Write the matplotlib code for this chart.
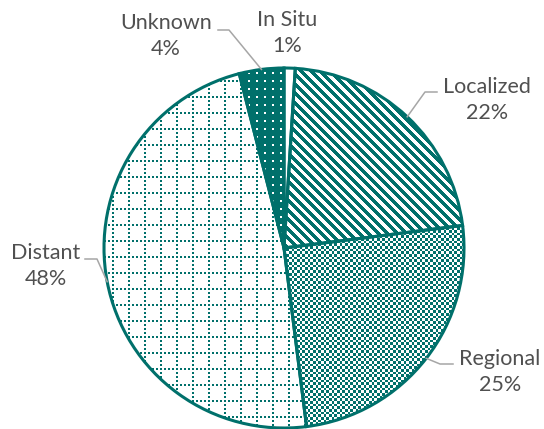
import numpy as np
import matplotlib
matplotlib.use("Agg")
import matplotlib.pyplot as plt

# stage distribution
stages = ["In Situ", "Localized", "Regional", "Distant", "Unknown"]
shares = [1, 22, 25, 48, 4]

teal = "#00706B"
grey_txt = "#505050"
leader = "#A6A6A6"

plt.rcParams['font.family'] = ['Lato', 'DejaVu Sans']

W, H = 544, 429
fig = plt.figure(figsize=(W / 100, H / 100), dpi=100)
ax = fig.add_axes([0, 0, 1, 1])

cx, cy, r = 284, 181, 180
wedges, _ = ax.pie(shares, startangle=90, counterclock=False, center=(cx, cy), radius=r,
                   wedgeprops=dict(facecolor="none", edgecolor=teal, linewidth=2.2, zorder=3))

# pixel patterns (screen rows, top = 0)
yy, xx = np.mgrid[0:H, 0:W].astype(float)
tc = np.array(matplotlib.colors.to_rgba(teal))
white = np.array([1.0, 1.0, 1.0, 1.0])


def make_img(mask):
    img = np.empty((H, W, 4))
    img[:] = white
    img[mask] = tc
    return img


stripes = ((xx - yy) % 9.5) < 4.9
checker = ((np.floor(xx / 2.67) + np.floor(yy / 2.67)) % 2) == 0
dgrid = (((xx % 16) < 2) & ((yy % 4) < 2)) | (((yy % 16) < 2) & ((xx % 4) < 2))
dots = ~(((xx % 8) < 2) & ((yy % 8) < 2))

patterns = [None, stripes, checker, dgrid, dots]
for w, pat in zip(wedges, patterns):
    if pat is None:
        continue
    im = ax.imshow(make_img(pat), extent=(0, W, 0, H), origin="upper",
                   interpolation="nearest", zorder=2)
    im.set_clip_path(w)
ax.set_xlim(0, W)
ax.set_ylim(0, H)
ax.set_aspect("auto")
ax.axis("off")

# labels and leader lines
text_pos = [(287, 396), (487, 329), (500, 57), (46, 163), (166, 393)]
elbows = [None, [(425, 337), (437, 337)], [(440, 65), (453, 65)],
          [(97, 170), (85, 170)], [(229, 399), (218, 399)]]

for w, name, v, tp, el in zip(wedges, stages, shares, text_pos, elbows):
    ax.text(tp[0], tp[1], f"{name}\n{v}%", ha="center", va="center",
            fontsize=15.5, color=grey_txt, linespacing=1.4, zorder=5)
    if el is None:
        continue
    mid = np.deg2rad((w.theta1 + w.theta2) / 2)
    px, py = cx + r * np.cos(mid), cy + r * np.sin(mid)
    xs = [px] + [p[0] for p in el]
    ys = [py] + [p[1] for p in el]
    ax.plot(xs, ys, color=leader, linewidth=1.1, zorder=4)

fig.savefig("out.png", dpi=100)
